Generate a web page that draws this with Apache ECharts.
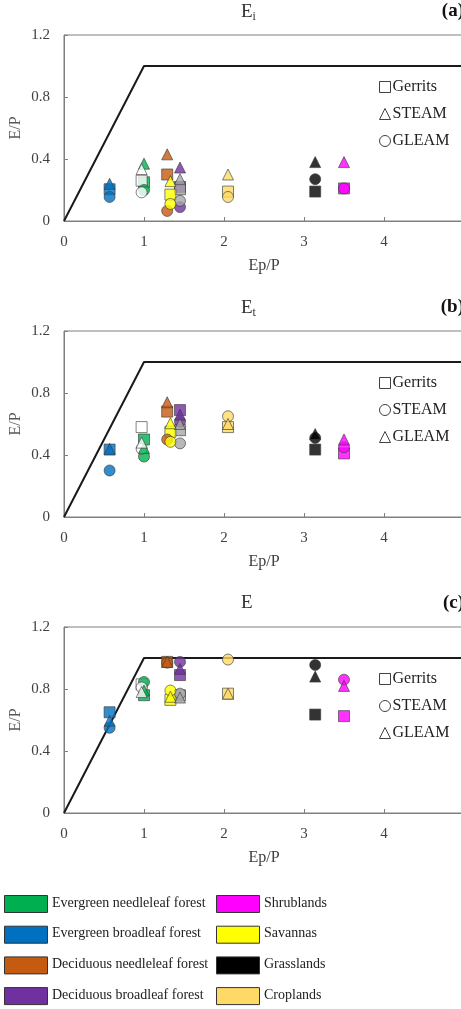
<!DOCTYPE html>
<html>
<head>
<meta charset="utf-8">
<script src="https://cdn.jsdelivr.net/npm/echarts@6/dist/echarts.min.js"></script>
<style>
  html, body { margin: 0; padding: 0; background: #fff; }
  #chart { width: 461px; height: 1009px; }
</style>
</head>
<body>
<div id="chart"></div>
<script>
// land cover classes (last two are unlabelled in the figure legend)
const classNames = ["Evergreen needleleaf forest", "Evergreen broadleaf forest", "Deciduous needleleaf forest",
  "Deciduous broadleaf forest", "Mixed forests", "Woody savannas", "Savannas", "Shrublands", "Grasslands", "Croplands"];
const classColors = ["#00b050", "#0070c0", "#c55a11", "#7030a0", "#ffffff", "#a6a6a6", "#ffff00", "#ff00ff", "#000000", "#ffd966"];
const epOverP = [1.00, 0.57, 1.29, 1.45, 0.97, 1.45, 1.33, 3.50, 3.14, 2.05];

// (a) Ei
const eiGerrits = [0.25, 0.205, 0.30, 0.22, 0.26, 0.205, 0.17, 0.21, 0.19, 0.19];
const eiSteam   = [0.37, 0.24, 0.43, 0.345, 0.335, 0.27, 0.257, 0.38, 0.38, 0.30];
const eiGleam   = [0.20, 0.155, 0.065, 0.09, 0.185, 0.13, 0.11, 0.21, 0.27, 0.155];
// (b) Et
const etGerrits = [0.50, 0.435, 0.68, 0.69, 0.58, 0.56, 0.55, 0.41, 0.435, 0.58];
const etSteam   = [0.39, 0.30, 0.50, 0.615, 0.44, 0.475, 0.485, 0.45, 0.51, 0.65];
const etGleam   = [0.445, 0.44, 0.74, 0.66, 0.48, 0.60, 0.605, 0.50, 0.535, 0.60];
// (c) E
const eGerrits = [0.76, 0.65, 0.975, 0.89, 0.83, 0.76, 0.73, 0.625, 0.635, 0.77];
const eSteam   = [0.845, 0.55, 0.97, 0.975, 0.81, 0.77, 0.79, 0.86, 0.955, 0.99];
const eGleam   = [0.79, 0.595, 0.975, 0.93, 0.78, 0.745, 0.75, 0.82, 0.88, 0.77];

// energy / water limit line
const limitX = [0, 1, 5];
const limitY = [0, 1, 1];

// bottom legend
const legendNames = ["Evergreen needleleaf forest", "Evergreen broadleaf forest", "Deciduous needleleaf forest",
  "Deciduous broadleaf forest", "Shrublands", "Savannas", "Grasslands", "Croplands"];
const legendColors = ["#00b050", "#0070c0", "#c55a11", "#7030a0", "#ff00ff", "#ffff00", "#000000", "#ffd966"];

const panels = [
  { name: "E", sub: "i", tag: "(a)", top: 35,
    sets: [["Gerrits", "rect", eiGerrits], ["STEAM", "triangle", eiSteam], ["GLEAM", "circle", eiGleam]] },
  { name: "E", sub: "t", tag: "(b)", top: 331,
    sets: [["Gerrits", "rect", etGerrits], ["STEAM", "circle", etSteam], ["GLEAM", "triangle", etGleam]] },
  { name: "E", sub: "", tag: "(c)", top: 627,
    sets: [["Gerrits", "rect", eGerrits], ["STEAM", "circle", eSteam], ["GLEAM", "triangle", eGleam]] }
];

const font = "Liberation Serif";
const plotH = 186;

let grids = [], xAxes = [], yAxes = [], series = [], titles = [], legends = [];

panels.forEach((p, i) => {
  grids.push({ left: 64, top: p.top, width: 400, height: plotH, show: true,
    outerBoundsMode: "none", containLabel: false,
    borderColor: "#7f7f7f", borderWidth: 1, backgroundColor: "transparent" });
  xAxes.push({
    gridIndex: i, type: "value", min: 0, max: 5, interval: 1,
    name: "Ep/P", nameLocation: "middle", nameGap: 37,
    nameTextStyle: { fontFamily: font, fontSize: 16, color: "#404040" },
    axisLine: { lineStyle: { color: "#7f7f7f" } },
    axisTick: { inside: true, length: 4, lineStyle: { color: "#7f7f7f" } },
    axisLabel: { fontFamily: font, fontSize: 15, color: "#404040", margin: 14, showMaxLabel: false },
    splitLine: { show: false }
  });
  yAxes.push({
    gridIndex: i, type: "value", min: 0, max: 1.2, interval: 0.4,
    name: "E/P", nameLocation: "middle", nameGap: 40, nameRotate: 90, nameMoveOverlap: false,
    nameTextStyle: { fontFamily: font, fontSize: 16, color: "#595959" },
    axisLine: { show: true, lineStyle: { color: "#7f7f7f" } },
    axisTick: { show: true, inside: true, length: 4, lineStyle: { color: "#7f7f7f" } },
    axisLabel: { fontFamily: font, fontSize: 15, color: "#404040", margin: 14 },
    splitLine: { show: false }
  });

  series.push({
    type: "line", xAxisIndex: i, yAxisIndex: i, silent: true, symbol: "none", z: 1,
    lineStyle: { color: "#1a1a1a", width: 2 },
    data: limitX.map((x, k) => [x, limitY[k]])
  });

  p.sets.forEach(([label, sym, vals]) => {
    series.push({
      name: label, type: "scatter", xAxisIndex: i, yAxisIndex: i, z: 3,
      symbol: sym, symbolSize: 11,
      itemStyle: { borderColor: "#3a3a3a", borderWidth: 0.8 },
      data: vals.map((v, k) => ({
        name: classNames[k], value: [epOverP[k], v],
        itemStyle: { color: classColors[k] }
      }))
    });
  });

  titles.push({
    text: p.sub ? "{e|" + p.name + "}{s|" + p.sub + "}" : "{e|" + p.name + "}",
    left: 241, top: p.top - 33, padding: 0,
    textStyle: { rich: {
      e: { fontFamily: font, fontSize: 19, fontWeight: "normal", color: "#333" },
      s: { fontFamily: font, fontSize: 12, fontWeight: "normal", color: "#333", padding: [9, 0, 0, 0] }
    } }
  });
  titles.push({
    text: p.tag, right: -3, top: p.top - 33, padding: 0,
    textStyle: { fontFamily: font, fontSize: 19, fontWeight: "bold", color: "#111" }
  });

  legends.push({
    orient: "vertical", left: 379, top: p.top + 44, padding: 0,
    itemWidth: 11, itemHeight: 11, itemGap: 11,
    selectedMode: false,
    textStyle: { fontFamily: font, fontSize: 16, color: "#222", padding: [0, 0, 0, -3] },
    itemStyle: { color: "#fff", borderColor: "#111", borderWidth: 1 },
    data: p.sets.map(s => ({ name: s[0], icon: s[1] }))
  });
});

// land cover key below the panels
let keyItems = [];
legendNames.forEach((n, k) => {
  const col = Math.floor(k / 4), row = k % 4;
  const x = col === 0 ? 4 : 216;
  const y = 895 + row * 30.7;
  keyItems.push({
    type: "rect", left: x, top: y,
    shape: { width: 43, height: 17 },
    style: { fill: legendColors[k], stroke: "#333", lineWidth: 1 }
  });
  keyItems.push({
    type: "text", left: x + 48, top: y + 1,
    style: { text: n, fontFamily: font, fontSize: 14, fill: "#222" }
  });
});

const chart = echarts.init(document.getElementById("chart"));
chart.setOption({
  animation: false,
  title: titles,
  legend: legends,
  grid: grids,
  xAxis: xAxes,
  yAxis: yAxes,
  series: series,
  graphic: keyItems
});
</script>
</body>
</html>
